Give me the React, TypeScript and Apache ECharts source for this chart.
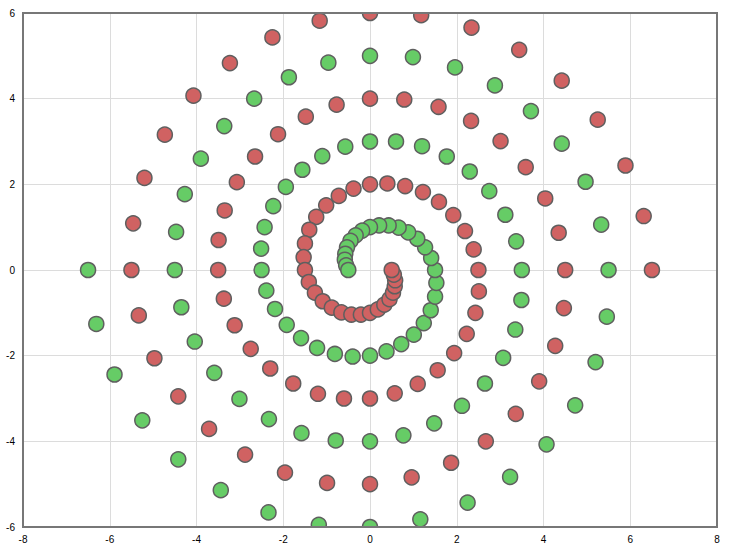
import React, { useEffect, useRef } from "react";
import * as echarts from "echarts";

const redSpiral: [number, number][] = [
  [6.5, 0], [6.31, 1.26], [5.89, 2.44], [5.25, 3.51], [4.42, 4.42], [3.44, 5.14], [2.34, 5.66], [1.18, 5.95],
  [0, 6], [-1.16, 5.82], [-2.25, 5.43], [-3.23, 4.83], [-4.07, 4.07], [-4.73, 3.16], [-5.2, 2.15], [-5.46, 1.09],
  [-5.5, 0], [-5.33, -1.06], [-4.97, -2.06], [-4.42, -2.95], [-3.71, -3.71], [-2.88, -4.31], [-1.96, -4.73], [-0.99, -4.97],
  [0, -5], [0.96, -4.84], [1.87, -4.5], [2.67, -4.0], [3.36, -3.36], [3.9, -2.6], [4.27, -1.77], [4.47, -0.89],
  [4.5, 0], [4.35, 0.87], [4.04, 1.67], [3.59, 2.4], [3.01, 3.01], [2.33, 3.48], [1.58, 3.81], [0.79, 3.98],
  [0, 4], [-0.77, 3.86], [-1.48, 3.58], [-2.12, 3.17], [-2.65, 2.65], [-3.07, 2.05], [-3.35, 1.39], [-3.49, 0.7],
  [-3.5, 0], [-3.37, -0.67], [-3.12, -1.29], [-2.75, -1.84], [-2.3, -2.3], [-1.77, -2.65], [-1.2, -2.89], [-0.6, -3.0],
  [0, -3], [0.57, -2.88], [1.1, -2.66], [1.56, -2.34], [1.94, -1.94], [2.23, -1.49], [2.43, -1.0], [2.51, -0.5],
  [2.5, 0], [2.39, 0.48], [2.19, 0.91], [1.92, 1.28], [1.59, 1.59], [1.22, 1.82], [0.81, 1.96], [0.4, 2.02],
  [0, 2], [-0.38, 1.9], [-0.72, 1.73], [-1.01, 1.51], [-1.24, 1.24], [-1.4, 0.94], [-1.5, 0.62], [-1.53, 0.3],
  [-1.5, 0], [-1.41, -0.28], [-1.27, -0.53], [-1.09, -0.73], [-0.88, -0.88], [-0.66, -0.99], [-0.43, -1.04], [-0.21, -1.04],
  [0, -1], [0.18, -0.92], [0.33, -0.81], [0.45, -0.68], [0.53, -0.53], [0.57, -0.38], [0.58, -0.24], [0.55, -0.11],
  [0.5, 0],
];

const greenSpiral: [number, number][] = [
  [-6.5, 0], [-6.31, -1.26], [-5.89, -2.44], [-5.25, -3.51], [-4.42, -4.42], [-3.44, -5.14], [-2.34, -5.66], [-1.18, -5.95],
  [0, -6], [1.16, -5.82], [2.25, -5.43], [3.23, -4.83], [4.07, -4.07], [4.73, -3.16], [5.2, -2.15], [5.46, -1.09],
  [5.5, 0], [5.33, 1.06], [4.97, 2.06], [4.42, 2.95], [3.71, 3.71], [2.88, 4.31], [1.96, 4.73], [0.99, 4.97],
  [0, 5], [-0.96, 4.84], [-1.87, 4.5], [-2.67, 4.0], [-3.36, 3.36], [-3.9, 2.6], [-4.27, 1.77], [-4.47, 0.89],
  [-4.5, 0], [-4.35, -0.87], [-4.04, -1.67], [-3.59, -2.4], [-3.01, -3.01], [-2.33, -3.48], [-1.58, -3.81], [-0.79, -3.98],
  [0, -4], [0.77, -3.86], [1.48, -3.58], [2.12, -3.17], [2.65, -2.65], [3.07, -2.05], [3.35, -1.39], [3.49, -0.7],
  [3.5, 0], [3.37, 0.67], [3.12, 1.29], [2.75, 1.84], [2.3, 2.3], [1.77, 2.65], [1.2, 2.89], [0.6, 3.0],
  [0, 3], [-0.57, 2.88], [-1.1, 2.66], [-1.56, 2.34], [-1.94, 1.94], [-2.23, 1.49], [-2.43, 1.0], [-2.51, 0.5],
  [-2.5, 0], [-2.39, -0.48], [-2.19, -0.91], [-1.92, -1.28], [-1.59, -1.59], [-1.22, -1.82], [-0.81, -1.96], [-0.4, -2.02],
  [0, -2], [0.38, -1.9], [0.72, -1.73], [1.01, -1.51], [1.24, -1.24], [1.4, -0.94], [1.5, -0.62], [1.53, -0.3],
  [1.5, 0], [1.41, 0.28], [1.27, 0.53], [1.09, 0.73], [0.88, 0.88], [0.66, 0.99], [0.43, 1.04], [0.21, 1.04],
  [0, 1], [-0.18, 0.92], [-0.33, 0.81], [-0.45, 0.68], [-0.53, 0.53], [-0.57, 0.38], [-0.58, 0.24], [-0.55, 0.11],
  [-0.5, 0],
];

const xTicks = { min: -8, max: 8, interval: 2 };
const yTicks = { min: -6, max: 6, interval: 2 };

export default function App() {
  const ref = useRef<HTMLDivElement>(null);
  useEffect(() => {
    if (!ref.current) return;
    const chart = echarts.init(ref.current, null, { renderer: "svg" });
    const W = 730, H = 548;
    const L = 23, R = 13, T = 13, B = 21;
    const gridPos = { left: L, right: R, top: T, bottom: B };
    const label = { color: "#000", fontSize: 10, fontFamily: "Arial, 'Liberation Sans', sans-serif" };
    const splitOnly = {
      axisLine: { show: false },
      axisTick: { show: false },
      axisLabel: { show: false },
      splitLine: { show: true, lineStyle: { color: "#dcdcdc", width: 1 } },
    };
    const labelsOnly = {
      axisLine: { show: true, onZero: false, lineStyle: { color: "#777", width: 2 } },
      axisTick: { show: false },
      splitLine: { show: false },
      z: 10,
    };
    const white = { fill: "#fff" };
    chart.setOption({
      animation: false,
      backgroundColor: "#fff",
      grid: [
        { ...gridPos, show: false },
        { ...gridPos, show: true, borderColor: "#777", borderWidth: 2, backgroundColor: "transparent", z: 10 },
      ],
      xAxis: [
        { type: "value", gridIndex: 0, ...xTicks, ...splitOnly },
        { type: "value", gridIndex: 1, ...xTicks, ...labelsOnly, axisLabel: { ...label, margin: 7 } },
      ],
      yAxis: [
        { type: "value", gridIndex: 0, ...yTicks, ...splitOnly },
        { type: "value", gridIndex: 1, ...yTicks, ...labelsOnly, axisLabel: { ...label, margin: 8 } },
      ],
      graphic: [
        { type: "rect", z: 6, silent: true, shape: { x: 0, y: 0, width: W, height: T - 1 }, style: white },
        { type: "rect", z: 6, silent: true, shape: { x: 0, y: H - B + 1, width: W, height: B }, style: white },
        { type: "rect", z: 6, silent: true, shape: { x: 0, y: 0, width: L - 1, height: H }, style: white },
        { type: "rect", z: 6, silent: true, shape: { x: W - R + 1, y: 0, width: R, height: H }, style: white },
      ],
      series: [
        {
          type: "scatter",
          name: "red",
          xAxisIndex: 0,
          yAxisIndex: 0,
          data: redSpiral,
          symbolSize: 15,
          itemStyle: { color: "#d06262", borderColor: "#5f5f5f", borderWidth: 1.5, opacity: 1 },
          z: 3,
        },
        {
          type: "scatter",
          name: "green",
          xAxisIndex: 0,
          yAxisIndex: 0,
          data: greenSpiral,
          symbolSize: 15,
          itemStyle: { color: "#66cc66", borderColor: "#5f5f5f", borderWidth: 1.5, opacity: 1 },
          z: 3,
        },
      ],
    });
    return () => chart.dispose();
  }, []);
  return <div ref={ref} style={{ position: "fixed", left: 0, top: 0, width: 730, height: 548 }} />;
}
